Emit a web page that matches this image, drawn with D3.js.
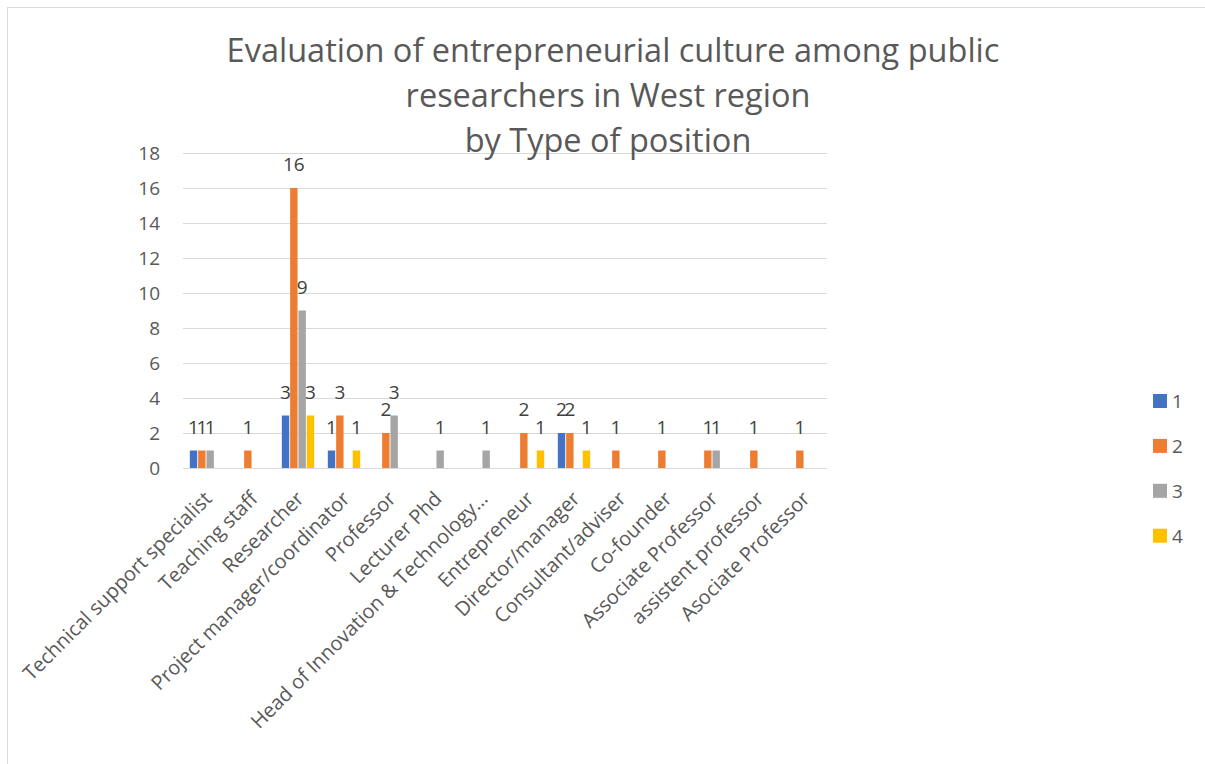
<!DOCTYPE html>
<html>
<head>
<meta charset="utf-8">
<script src="https://cdn.jsdelivr.net/npm/d3@7"></script>
<style>
  html, body { margin: 0; padding: 0; background: #fff; }
  svg { display: block; font-family: "Open Sans", "DejaVu Sans", sans-serif; }
</style>
</head>
<body>
<svg id="chart" width="1205" height="764"></svg>
<script>
// Positions held in the survey, one cluster of bars per position
const categories = [
  "Technical support specialist", "Teaching staff", "Researcher",
  "Project manager/coordinator", "Professor", "Lecturer Phd",
  "Head of Innovation & Technology…", "Entrepreneur", "Director/manager",
  "Consultant/adviser", "Co-founder", "Associate Professor",
  "assistent professor", "Asociate Professor"
];
// Evaluation score (1–4) → number of respondents per position; null = no answer
const seriesNames = ["1", "2", "3", "4"];
const score1 = [1, null, 3, 1, null, null, null, null, 2, null, null, null, null, null];
const score2 = [1, 1, 16, 3, 2, null, null, 2, 2, 1, 1, 1, 1, 1];
const score3 = [1, null, 9, null, 3, 1, 1, null, null, null, null, 1, null, null];
const score4 = [null, null, 3, 1, null, null, null, 1, 1, null, null, null, null, null];
const yTicks = [0, 2, 4, 6, 8, 10, 12, 14, 16, 18];
const titleLines = [
  "Evaluation of entrepreneurial culture among public",
  "researchers in West region",
  "by Type of position"
];

const seriesValues = [score1, score2, score3, score4];
const colors = ["#4472C4", "#ED7D31", "#A5A5A5", "#FFC000"];

const svg = d3.select("#chart");

// chart frame
svg.append("rect")
  .attr("x", 7.5).attr("y", 7.5)
  .attr("width", 1300).attr("height", 900)
  .attr("fill", "#fff").attr("stroke", "#d9d9d9").attr("stroke-width", 1);

const plot = { left: 183, right: 827, top: 153, bottom: 468 };

const x0 = d3.scaleBand().domain(categories).range([plot.left, plot.right]).padding(0);
const x1 = d3.scaleBand().domain(seriesNames).range([0, x0.bandwidth()])
  .paddingInner(0.11).paddingOuter(0.82);
const y = d3.scaleLinear().domain([0, 18]).range([plot.bottom, plot.top]);

// horizontal gridlines
svg.append("g").selectAll("line").data(yTicks).join("line")
  .attr("x1", plot.left).attr("x2", plot.right)
  .attr("y1", d => Math.round(y(d)) + 0.5).attr("y2", d => Math.round(y(d)) + 0.5)
  .attr("stroke", "#d9d9d9").attr("stroke-width", 1);

// value axis
const yAxis = d3.axisLeft(y).tickValues(yTicks).tickSize(0).tickPadding(0);
const gy = svg.append("g").attr("transform", `translate(160,0)`).call(yAxis);
gy.select(".domain").remove();
gy.selectAll("text")
  .attr("font-family", "Open Sans").attr("font-size", 19).attr("fill", "#595959")
  .attr("dy", "0.36em");

// bars
const rows = categories.map((c, i) => ({ cat: c, vals: seriesValues.map((s, k) => ({ key: seriesNames[k], k, v: s[i] })) }));
const groups = svg.append("g").selectAll("g").data(rows).join("g")
  .attr("transform", d => `translate(${x0(d.cat)},0)`);

groups.selectAll("rect").data(d => d.vals.filter(e => e.v != null)).join("rect")
  .attr("x", d => x1(d.key))
  .attr("width", x1.bandwidth())
  .attr("y", d => y(d.v))
  .attr("height", d => y(0) - y(d.v))
  .attr("fill", d => colors[d.k]);

// data labels
groups.selectAll("text").data(d => d.vals.filter(e => e.v != null)).join("text")
  .attr("x", d => x1(d.key) + x1.bandwidth() / 2)
  .attr("y", d => y(d.v) - 17)
  .attr("text-anchor", "middle")
  .attr("font-family", "Open Sans").attr("font-size", 19).attr("fill", "#404040")
  .text(d => d.v);

// category axis labels, rotated
const xAxis = d3.axisBottom(x0).tickSize(0).tickPadding(0);
const gx = svg.append("g").attr("transform", `translate(0,${plot.bottom})`).call(xAxis);
gx.select(".domain").remove();
gx.selectAll("text")
  .attr("font-family", "Open Sans").attr("font-size", 20).attr("fill", "#595959")
  .attr("text-anchor", "end")
  .attr("dy", null).attr("y", null)
  .attr("transform", "translate(7,32) rotate(-45)");

// title
svg.append("g").selectAll("text").data(titleLines).join("text")
  .attr("x", (d, i) => i === 0 ? 613 : 608)
  .attr("y", (d, i) => 62 + i * 45)
  .attr("text-anchor", "middle")
  .attr("font-family", "Open Sans").attr("font-size", 32.5).attr("fill", "#595959")
  .text(d => d);

// legend
const legend = svg.append("g").selectAll("g").data(seriesNames).join("g")
  .attr("transform", (d, i) => `translate(1153,${401 + i * 44.9})`);
legend.append("rect")
  .attr("x", 0).attr("y", -7).attr("width", 14).attr("height", 14)
  .attr("fill", (d, i) => colors[i]);
legend.append("text")
  .attr("x", 19).attr("y", 0).attr("dy", "0.36em")
  .attr("font-family", "Open Sans").attr("font-size", 19).attr("fill", "#595959")
  .text(d => d);
</script>
</body>
</html>
